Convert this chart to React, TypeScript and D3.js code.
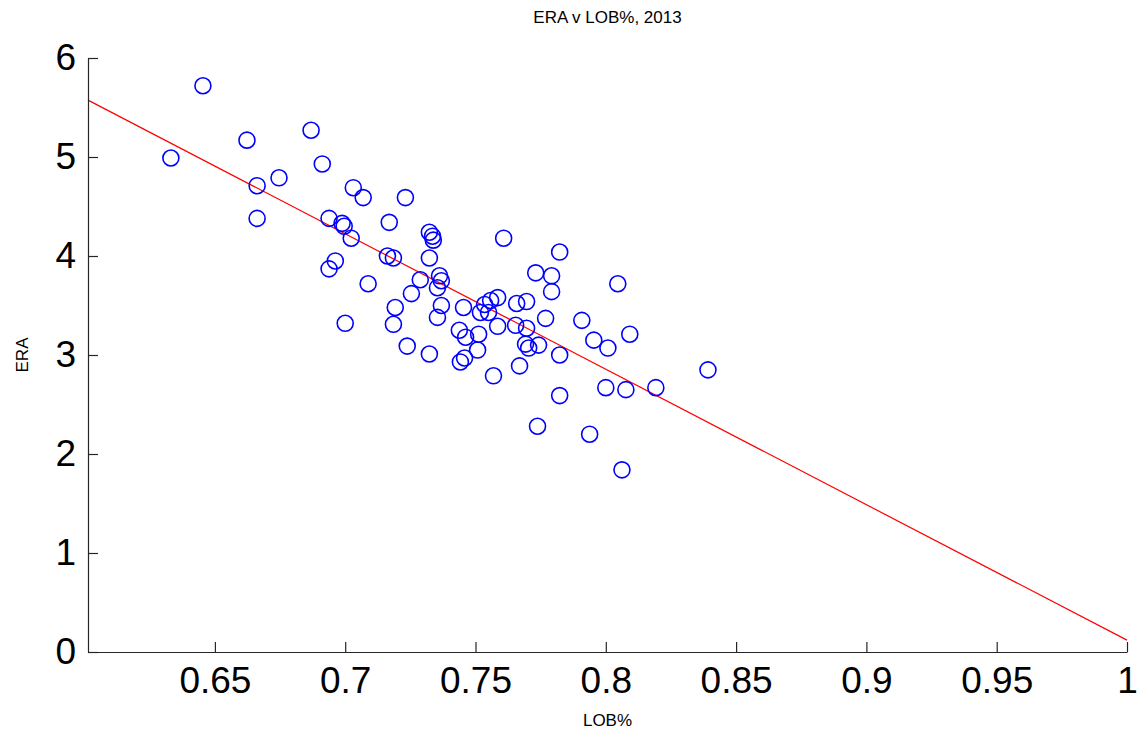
import React, { useEffect, useRef } from 'react';
import * as d3 from 'd3';

// LOB% (left on base) and ERA for each pitcher, 2013
const lobPct = [
  0.6331, 0.6454, 0.6623, 0.6662, 0.6662, 0.6746, 0.6869, 0.6912, 0.7031, 0.7069,
  0.7231, 0.6938, 0.6988, 0.6996, 0.7023, 0.7169, 0.7162, 0.7185, 0.6938, 0.6962,
  0.7088, 0.7000, 0.7192, 0.7185, 0.7238, 0.7254, 0.7323, 0.7335, 0.7338, 0.7323,
  0.7288, 0.7362, 0.7369, 0.7354, 0.7369, 0.7354, 0.7323, 0.7454, 0.7438, 0.7462,
  0.7512, 0.7508, 0.7442, 0.7458, 0.7569, 0.7535, 0.7558, 0.7585, 0.7550, 0.7519,
  0.7585, 0.7658, 0.7696, 0.7654, 0.7696, 0.7692, 0.7704, 0.7742, 0.7769, 0.7731,
  0.7792, 0.7792, 0.7608, 0.7823, 0.7669, 0.7823, 0.7823, 0.7738, 0.7908, 0.7954,
  0.8008, 0.8092, 0.8046, 0.8000, 0.8077, 0.8192, 0.8392, 0.7938, 0.8062,
];
const era = [
  4.99, 5.72, 5.17, 4.71, 4.38, 4.79, 5.27, 4.93, 4.69, 4.59,
  4.59, 4.38, 4.33, 4.30, 4.18, 4.34, 4.00, 3.98, 3.87, 3.95,
  3.72, 3.32, 3.48, 3.31, 3.09, 3.62, 4.24, 4.20, 4.16, 3.98,
  3.76, 3.80, 3.75, 3.68, 3.50, 3.38, 3.01, 3.48, 3.25, 3.18,
  3.21, 3.05, 2.93, 2.97, 2.79, 3.51, 3.55, 3.58, 3.43, 3.43,
  3.29, 3.52, 3.54, 3.30, 3.27, 3.11, 3.07, 3.10, 3.37, 3.83,
  3.80, 3.64, 4.18, 4.04, 2.89, 3.00, 2.59, 2.28, 3.35, 3.15,
  3.07, 3.21, 3.72, 2.67, 2.65, 2.67, 2.85, 2.20, 1.84,
];

// least squares fit: ERA = slope * LOB% + intercept
const fitSlope = -13.68;
const fitIntercept = 13.8;

const xTicks = [0.65, 0.7, 0.75, 0.8, 0.85, 0.9, 0.95, 1];
const yTicks = [0, 1, 2, 3, 4, 5, 6];

const Width = 1138;
const Height = 740;
const margin = { top: 58, right: 11, bottom: 88, left: 88 };
const chartWidth = Width - margin.left - margin.right;
const chartHeight = Height - margin.top - margin.bottom;
const font = 'Liberation Sans, Arial, Helvetica, sans-serif';

export default function App() {
  const xAxisRef = useRef<SVGGElement>(null);
  const yAxisRef = useRef<SVGGElement>(null);

  const x = d3.scaleLinear().domain([0.6013, 1]).range([0, chartWidth]);
  const y = d3.scaleLinear().domain([0, 6]).range([chartHeight, 0]);

  useEffect(() => {
    const xAxis = d3
      .axisBottom(x)
      .tickValues(xTicks)
      .tickFormat((d) => String(+d))
      .tickSizeInner(-10)
      .tickSizeOuter(0)
      .tickPadding(15);
    const yAxis = d3
      .axisLeft(y)
      .tickValues(yTicks)
      .tickFormat((d) => String(d))
      .tickSizeInner(-10)
      .tickSizeOuter(0)
      .tickPadding(12);

    const styleAxis = (g: d3.Selection<SVGGElement, unknown, null, undefined>) => {
      g.selectAll('.domain').attr('stroke', '#262626').attr('stroke-width', 1.2);
      g.selectAll('.tick line').attr('stroke', '#262626').attr('stroke-width', 1.2);
      g.selectAll('.tick text')
        .attr('fill', '#000')
        .style('font-family', font)
        .style('font-size', '37px');
    };

    d3.select(xAxisRef.current).call(xAxis).call(styleAxis);
    d3.select(yAxisRef.current).call(yAxis).call(styleAxis);
  });

  const points = lobPct.map((v, i) => ({ lob: v, era: era[i] }));
  const [x0, x1] = x.domain();
  const fitLine = d3
    .line<number>()
    .x((d) => x(d))
    .y((d) => y(fitSlope * d + fitIntercept));

  return (
    <svg
      width={Width}
      height={Height}
      style={{ position: 'absolute', left: 0, top: 0, background: '#fff' }}
    >
      <g transform={`translate(${margin.left}, ${margin.top})`}>
        <path d={fitLine([x0, x1]) ?? ''} fill="none" stroke="#ff0000" strokeWidth={1.2} />
        {points.map((d, i) => (
          <circle
            key={i}
            cx={x(d.lob)}
            cy={y(d.era)}
            r={8}
            fill="none"
            stroke="#0000ff"
            strokeWidth={1.6}
          />
        ))}
        <g ref={xAxisRef} transform={`translate(0, ${chartHeight})`} />
        <g ref={yAxisRef} />
        <text
          x={chartWidth / 2}
          y={-35}
          textAnchor="middle"
          style={{ fontFamily: font, fontSize: '17px' }}
        >
          ERA v LOB%, 2013
        </text>
        <text
          x={chartWidth / 2}
          y={chartHeight + 74}
          textAnchor="middle"
          style={{ fontFamily: font, fontSize: '17px' }}
        >
          LOB%
        </text>
        <text
          transform={`translate(-60, ${chartHeight / 2}) rotate(-90)`}
          textAnchor="middle"
          style={{ fontFamily: font, fontSize: '17px' }}
        >
          ERA
        </text>
      </g>
    </svg>
  );
}
